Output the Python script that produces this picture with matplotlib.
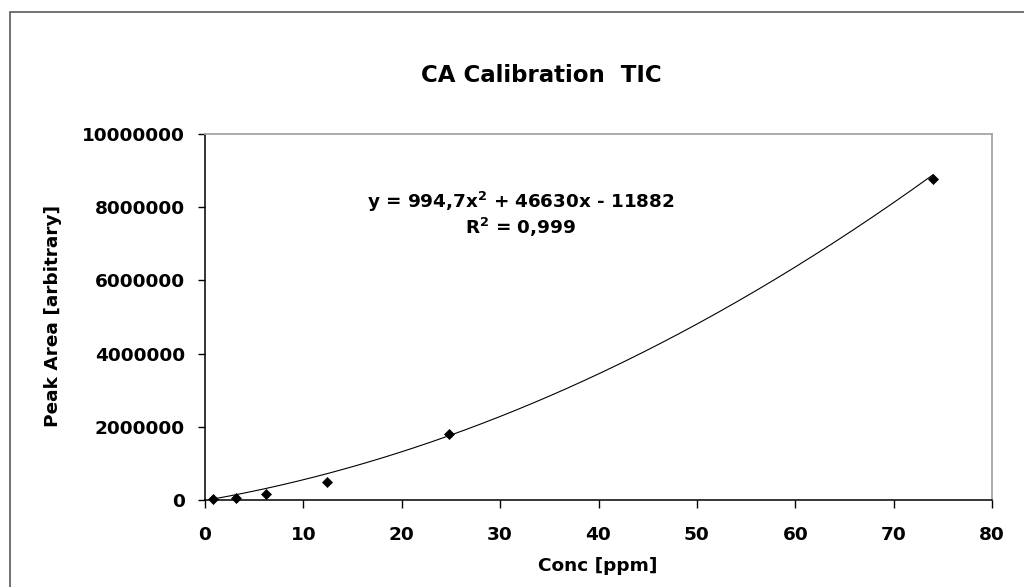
import matplotlib
matplotlib.use("Agg")
import matplotlib.pyplot as plt
import numpy as np
from matplotlib.patches import Rectangle
from matplotlib.ticker import FuncFormatter

# ---- data ----
conc_ppm = [0.78, 3.2, 6.25, 12.4, 24.8, 74.0]
peak_area = [20000, 55000, 155000, 500000, 1790000, 8780000]
# polynomial trendline coefficients as shown in the chart (a*x^2 + b*x + c)
trend_coef = [994.7, 46630, -11882]
x_ticks = [0, 10, 20, 30, 40, 50, 60, 70, 80]
y_ticks = [0, 2000000, 4000000, 6000000, 8000000, 10000000]
title = "CA Calibration  TIC"
x_label = "Conc [ppm]"
y_label = "Peak Area [arbitrary]"
eq_line1 = "y = 994,7x$^{2}$ + 46630x - 11882"
eq_line2 = "R$^{2}$ = 0,999"

plt.rcParams['font.family'] = ['DejaVu Sans']
plt.rcParams['font.weight'] = 'bold'
plt.rcParams['mathtext.default'] = 'bf'

W, H = 1024, 587
fig = plt.figure(figsize=(W / 100, H / 100), dpi=100)
fig.patch.set_facecolor('white')

ax = fig.add_axes([205 / W, 1 - 500 / H, (992 - 205) / W, (500 - 134) / H])

# trendline
xt = np.linspace(min(conc_ppm), max(conc_ppm), 300)
yt = np.polyval(trend_coef, xt)
ax.plot(xt, yt, color='black', lw=0.8, zorder=2)

# data points
ax.plot(conc_ppm, peak_area, linestyle='none', marker='D', ms=4.8,
        color='black', mec='black', mew=0.5, zorder=3, clip_on=False)

ax.set_xlim(0, 80)
ax.set_ylim(0, 10000000)
ax.set_xticks(x_ticks)
ax.set_yticks(y_ticks)
ax.yaxis.set_major_formatter(FuncFormatter(lambda v, p: f"{int(v)}"))

for side in ['left', 'bottom']:
    ax.spines[side].set_color('black')
    ax.spines[side].set_linewidth(1.1)
for side in ['top', 'right']:
    ax.spines[side].set_color('#a6a6a6')
    ax.spines[side].set_linewidth(1.3)

ax.tick_params(axis='y', direction='out', length=5, width=1.0, pad=9.5,
               labelsize=13.3, colors='black')
ax.tick_params(axis='x', direction='out', length=5.5, width=1.0, pad=13.5,
               labelsize=13.3, colors='black')
for lab in ax.get_xticklabels() + ax.get_yticklabels():
    lab.set_fontweight('bold')

# texts
fig.text(541 / W, 1 - 75 / H, title, ha='center', va='center',
         fontsize=16.5, fontweight='bold')
fig.text(598 / W, 1 - 566 / H, x_label, ha='center', va='center',
         fontsize=13.3, fontweight='bold')
fig.text(53 / W, 1 - 316 / H, y_label, ha='center', va='center',
         rotation=90, fontsize=13.3, fontweight='bold')

ax.text((521 - 205) / 787, (500 - 202) / 366, eq_line1, transform=ax.transAxes,
        ha='center', va='center', fontsize=13.2, fontweight='bold')
ax.text((521 - 205) / 787, (500 - 227) / 366, eq_line2, transform=ax.transAxes,
        ha='center', va='center', fontsize=13.2, fontweight='bold')

# outer chart border (extends beyond right/bottom edge as in the reference)
fig.patches.append(Rectangle((9.5 / W, -0.1), 1.2, (1 - 12 / H) + 0.1,
                             transform=fig.transFigure, fill=False,
                             edgecolor='#5a5a5a', lw=1.2, clip_on=False))

fig.savefig('out.png', dpi=100, facecolor='white')
